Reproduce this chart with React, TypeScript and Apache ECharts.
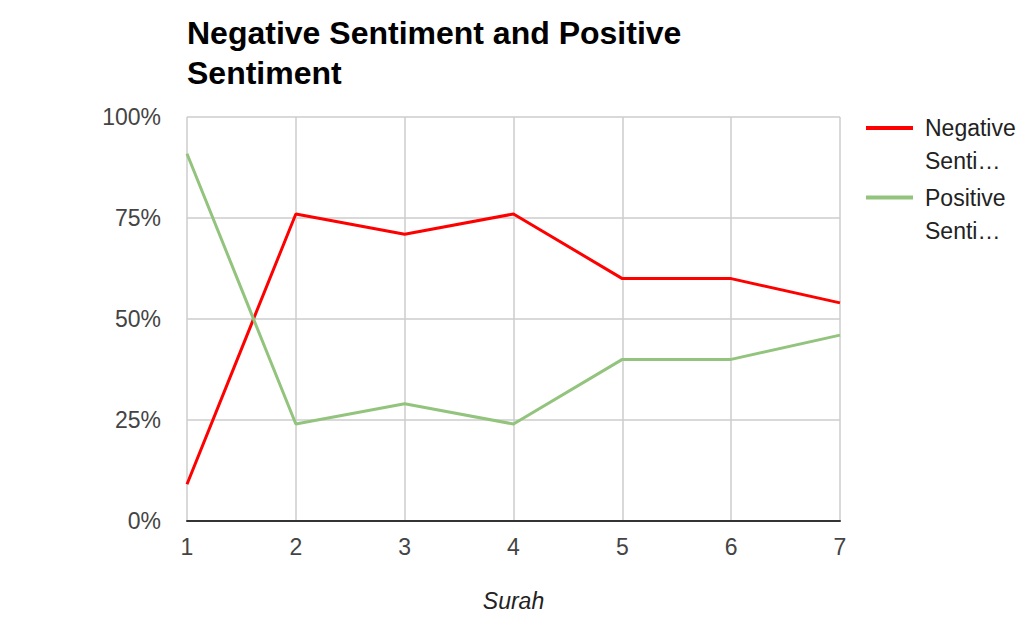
import React, { useEffect, useRef } from "react";
import * as echarts from "echarts";

const titleText = "Negative Sentiment and Positive\nSentiment";
const xAxisName = "Surah";
const surahs = ["1", "2", "3", "4", "5", "6", "7"];
const negative = [9.1, 76, 71, 76, 60, 60, 54];
const positive = [90.9, 24, 29, 24, 40, 40, 46];
const yTickValues = [0, 25, 50, 75, 100];
const seriesNames = ["Negative Sentiment", "Positive Sentiment"];
const legendLabels = ["Negative\nSenti…", "Positive\nSenti…"];
const seriesColors = ["#ff0000", "#93c47d"];

const FONT = "'Liberation Sans', Arial, sans-serif";

export default function App() {
  const ref = useRef<HTMLDivElement>(null);

  useEffect(() => {
    if (!ref.current) return;
    const chart = echarts.init(ref.current, undefined, { renderer: "svg" });
    const seriesData = [negative, positive];

    const legendChildren: any[] = [];
    seriesNames.forEach((_, i) => {
      const cy = 128 + i * 69.5;
      legendChildren.push({
        type: "line",
        shape: { x1: 866, y1: cy, x2: 913, y2: cy },
        style: { stroke: seriesColors[i], lineWidth: 4 },
      });
      legendChildren.push({
        type: "text",
        style: {
          text: legendLabels[i],
          x: 925,
          y: cy - 16.5,
          fontSize: 23,
          fontFamily: FONT,
          lineHeight: 33,
          fill: "#222",
          verticalAlign: "top",
          align: "left",
        },
      });
    });

    chart.setOption({
      animation: false,
      backgroundColor: "#ffffff",
      title: {
        text: titleText,
        left: 187,
        top: 13,
        padding: 0,
        textStyle: {
          fontSize: 32,
          fontWeight: "bold",
          fontFamily: FONT,
          lineHeight: 40,
          color: "#000",
        },
      },
      grid: { left: 187, right: 194, top: 117, bottom: 111, containLabel: false },
      xAxis: {
        type: "category",
        boundaryGap: false,
        data: surahs,
        name: xAxisName,
        nameLocation: "middle",
        nameGap: 68,
        nameTextStyle: {
          fontStyle: "italic",
          fontSize: 23,
          fontFamily: FONT,
          color: "#222",
        },
        axisTick: { show: false },
        axisLine: { show: true, lineStyle: { color: "#333", width: 2 } },
        axisLabel: { fontSize: 23, fontFamily: FONT, color: "#444", margin: 14 },
        splitLine: { show: true, lineStyle: { color: "#cccccc", width: 1.5 } },
      },
      yAxis: {
        type: "value",
        min: yTickValues[0],
        max: yTickValues[yTickValues.length - 1],
        interval: yTickValues[1] - yTickValues[0],
        axisLine: { show: false },
        axisTick: { show: false },
        axisLabel: {
          fontSize: 23,
          fontFamily: FONT,
          color: "#444",
          margin: 26,
          formatter: "{value}%",
        },
        splitLine: { show: true, lineStyle: { color: "#cccccc", width: 1.5 } },
      },
      series: seriesNames.map((name, i) => ({
        name,
        type: "line",
        data: seriesData[i],
        symbol: "none",
        lineStyle: { color: seriesColors[i], width: 3 },
        itemStyle: { color: seriesColors[i] },
        z: 3,
      })),
      graphic: [{ type: "group", children: legendChildren }],
    });

    return () => chart.dispose();
  }, []);

  return (
    <div
      ref={ref}
      style={{ position: "fixed", left: 0, top: 0, width: 1034, height: 632 }}
    />
  );
}
